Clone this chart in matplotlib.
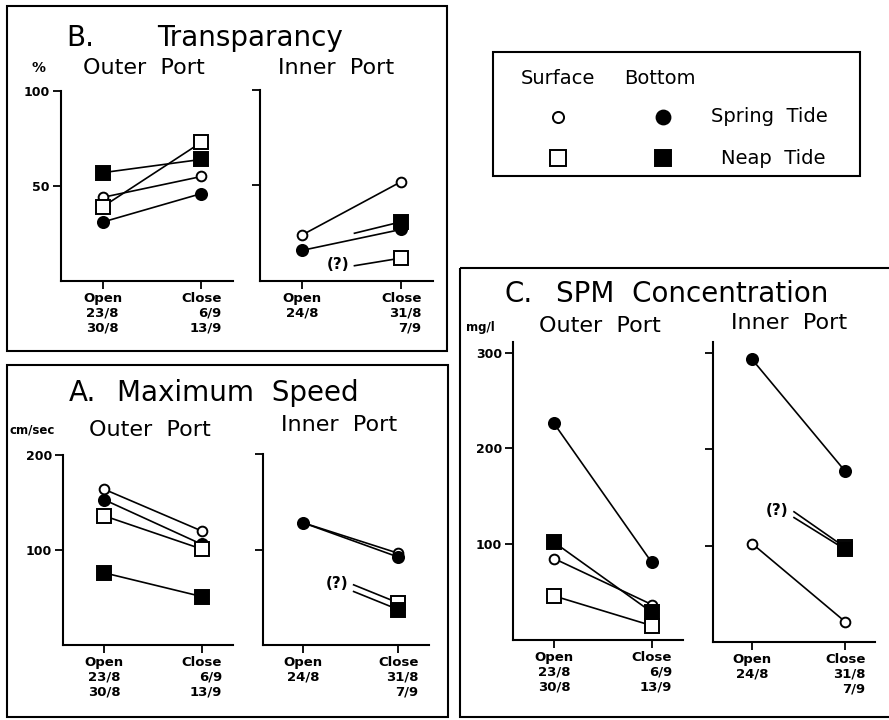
import matplotlib
matplotlib.use('Agg')

import matplotlib.pyplot as plt
from matplotlib.patches import Rectangle

W, H = 889, 720

# series order: surface/spring, bottom/spring, surface/neap, bottom/neap
markers = ['o', 'o', 's', 's']
faces = ['white', 'black', 'white', 'black']
msizes = [7, 8, 9.5, 10]

# B. Transparancy (%)
b_outer_open = [44, 31, 39, 57]
b_outer_close = [55, 46, 73, 64]
b_inner_open = [24, 16, None, None]
b_inner_close = [52, 27, 12, 31]
b_inner_stub = [None, None, 8, 25]

# A. Maximum speed (cm/sec)
a_outer_open = [164, 153, 136, 76]
a_outer_close = [120, 106, 101, 51]
a_inner_open = [128, 128, None, None]
a_inner_close = [96, 92, 44, 37]
a_inner_stub = [None, None, 63, 56]

# C. SPM concentration (mg/l)
c_outer_open = [85, 226, 46, 102]
c_outer_close = [37, 81, 15, 29]
c_inner_open = [102, 293, None, None]
c_inner_close = [21, 177, 98, 96]
c_inner_stub = [None, None, 135, 129]

outer_labels = ['Open\n23/8\n30/8', 'Close\n6/9\n13/9']
inner_labels = ['Open\n24/8', 'Close\n31/8\n7/9']

fig = plt.figure(figsize=(W / 100, H / 100), dpi=100)

# overlay in pixel coords for boxes, titles and the legend
ov = fig.add_axes([0, 0, 1, 1])
ov.set_xlim(0, W)
ov.set_ylim(H, 0)
ov.axis('off')


def px_axes(x0, x1, y0, y1):
    ax = fig.add_axes([x0 / W, 1 - y1 / H, (x1 - x0) / W, (y1 - y0) / H])
    ax.set_facecolor('none')
    return ax


def draw_panel(ax, opens, closes, stubs, ylim, yticks, ylabels, xlabels, stub_x=0.5):
    for i in range(4):
        style = dict(color='black', lw=1.2, marker=markers[i], mfc=faces[i],
                     mec='black', mew=1.4, ms=msizes[i], zorder=3 + i, clip_on=False)
        if opens[i] is not None:
            ax.plot([0, 1], [opens[i], closes[i]], **style)
        else:
            ax.plot([stub_x, 1], [stubs[i], closes[i]], markevery=[1], **style)
    if any(s is not None for s in stubs):
        ax.annotate('(?)', xy=(stub_x, stubs[2]), xytext=(-4, 1), textcoords='offset points',
                    ha='right', va='center', fontsize=11, fontweight='bold')
    ax.set_xlim(-0.42, 1.32)
    ax.set_ylim(*ylim)
    for s in ['top', 'right']:
        ax.spines[s].set_visible(False)
    for s in ['left', 'bottom']:
        ax.spines[s].set_linewidth(1.5)
    ax.set_yticks(yticks)
    ax.set_yticklabels(ylabels, fontsize=9, fontweight='bold')
    ax.set_xticks([0, 1])
    ax.set_xticklabels(xlabels, fontsize=9.5, fontweight='bold', linespacing=1.15)
    ax.get_xticklabels()[1].set_multialignment('right')
    ax.tick_params(axis='both', length=6, width=1.3, pad=2)


def ftext(x, y, s, size, **kw):
    ov.text(x, y, s, fontsize=size, va='center', ha=kw.pop('ha', 'left'), **kw)


# panel frames
ov.add_patch(Rectangle((7, 6), 440, 345, fill=False, lw=1.5, ec='black'))
ov.add_patch(Rectangle((7, 365), 441, 352, fill=False, lw=1.5, ec='black'))
ov.add_patch(Rectangle((460, 268), 440, 449, fill=False, lw=1.5, ec='black', clip_on=False))
ov.add_patch(Rectangle((493, 52), 367, 124, fill=False, lw=1.5, ec='black'))

# B. Transparancy
ftext(66, 38, 'B.', 20)
ftext(157, 38, 'Transparancy', 20)
ftext(32, 68, '%', 10, fontweight='bold')
ftext(83, 68, 'Outer  Port', 16)
ftext(278, 68, 'Inner  Port', 16)
ax = px_axes(61, 233, 91, 281)
draw_panel(ax, b_outer_open, b_outer_close, [None] * 4, (0, 100), [50, 100], ['50', '100'], outer_labels)
ax = px_axes(260, 433, 90, 281)
draw_panel(ax, b_inner_open, b_inner_close, b_inner_stub, (0, 100), [50, 100], ['', ''], inner_labels, 0.53)

# A. Maximum Speed
ftext(69, 393, 'A.', 20)
ftext(117, 393, 'Maximum  Speed', 20)
ftext(10, 430, 'cm/sec', 8.5, fontweight='bold')
ftext(89, 430, 'Outer  Port', 16)
ftext(281, 425, 'Inner  Port', 16)
ax = px_axes(63, 233, 455, 645)
draw_panel(ax, a_outer_open, a_outer_close, [None] * 4, (0, 200), [100, 200], ['100', '200'], outer_labels)
ax = px_axes(263, 429, 454, 645)
draw_panel(ax, a_inner_open, a_inner_close, a_inner_stub, (0, 200), [100, 200], ['', ''], inner_labels, 0.53)

# C. SPM Concentration
ftext(504, 294, 'C.', 20)
ftext(556, 294, 'SPM  Concentration', 20)
ftext(466, 328, 'mg/l', 8.5, fontweight='bold')
ftext(539, 326, 'Outer  Port', 16)
ftext(731, 323, 'Inner  Port', 16)
ax = px_axes(513, 683, 342, 640)
draw_panel(ax, c_outer_open, c_outer_close, [None] * 4, (0, 311), [100, 200, 300],
           ['100', '200', '300'], outer_labels)
ax = px_axes(713, 875, 342, 642)
draw_panel(ax, c_inner_open, c_inner_close, c_inner_stub, (0, 311), [100, 200, 300],
           ['', '', ''], inner_labels, 0.45)

# legend
ftext(521, 78, 'Surface', 14)
ftext(624, 78, 'Bottom', 14)
ftext(711, 117, 'Spring  Tide', 14)
ftext(721, 158, 'Neap  Tide', 14)
leg_rows = [117, 158]
leg_cols = [558, 663]
for r, yy in enumerate(leg_rows):
    for c, xx in enumerate(leg_cols):
        k = r * 2 + c
        ov.plot([xx], [yy], marker='o' if r == 0 else 's', mfc='white' if c == 0 else 'black',
                mec='black', mew=1.4, ms=[8, 10, 12, 12][k], ls='none')

fig.savefig('out.png', dpi=100)
